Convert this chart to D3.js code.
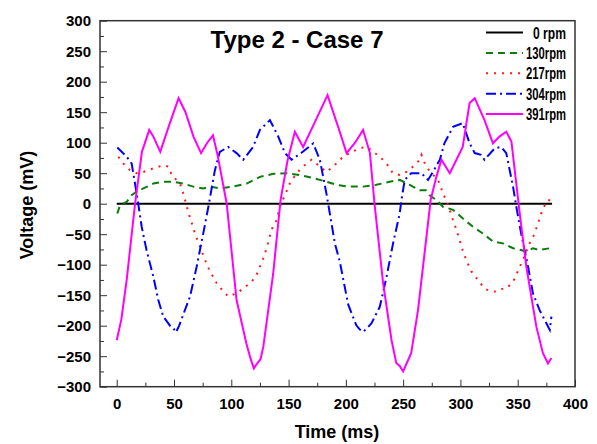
<!DOCTYPE html>
<html>
<head>
<meta charset="utf-8">
<script src="https://cdn.jsdelivr.net/npm/d3@7"></script>
<style>
  body { margin: 0; background: #fff; }
  text { font-family: Arial, "Liberation Sans", sans-serif; font-weight: bold; fill: #000; }
</style>
</head>
<body>
<svg width="597" height="444"></svg>
<script>
// series readings (ms, mV)
var t0 = [0, 380];
var v0 = [0, 0];

var t130 = [0.5, 3, 8.7, 13, 17.4, 23.2, 32, 40.6, 49.4, 58, 66.8, 75.5, 81.4, 90, 101.7, 113.4, 125, 136.6, 148.3, 159.9, 171.5, 183, 192, 202, 215, 226.7, 238.3, 247, 255.8, 264.5, 270, 273, 279, 284.8, 293.5, 302, 311, 319.7, 328.4, 337, 346, 353, 357.5, 363.3, 369, 378];
var v130 = [-16, -2, 3, 14, 20, 25, 33, 36, 36, 33, 28, 25, 28, 25, 28, 33, 44, 49, 50, 47, 42, 36, 31, 28, 28, 31, 36, 39, 31, 22, 22, 14, 6, -5, -10, -24, -38, -49, -62, -65, -73, -76, -79, -73, -76, -73];

var t217 = [1.4, 5.8, 11.6, 17.4, 23.2, 32, 40.6, 45, 48, 55.2, 58, 62.4, 68.3, 72.6, 77, 81.4, 87.2, 93, 97.3, 104.6, 110.4, 117.7, 122, 125, 128.5, 132, 135, 139.5, 142.4, 146.8, 151, 157, 162.7, 170, 177.3, 183, 189, 197.6, 203.5, 212, 218, 222, 229.6, 235.5, 241, 247, 252.9, 258.7, 264.5, 266, 270, 274.7, 280.5, 284.8, 289.2, 293.5, 296.5, 302, 305, 309.6, 315.3, 321, 327, 331.4, 335.7, 340, 346, 350, 354.6, 360.4, 364.8, 367.7, 372, 376.4, 379];
var v217 = [77, 66, 55, 50, 52, 58, 63, 61, 47, 33, 17, -13, -49, -70, -92, -111, -130, -144, -152, -147, -139, -128, -117, -103, -87, -65, -43, -27, -5, 14, 33, 50, 61, 72, 61, 52, 61, 77, 83, 91, 93, 88, 77, 66, 50, 47, 52, 61, 72, 80, 61, 50, 39, 17, -2, -27, -43, -76, -92, -111, -125, -139, -144, -144, -140, -139, -128, -111, -92, -65, -49, -32, -8, 6, 5];

var t304 = [0.5, 8.7, 13, 17.4, 21.8, 26, 32, 36.3, 40.6, 46.5, 49, 51.7, 54.5, 58, 64, 69.8, 75.5, 80, 85.7, 90, 97.3, 104.6, 110.4, 119, 125, 133.7, 141, 146.8, 152.6, 161, 171.5, 177.3, 183, 186, 190.4, 194.7, 202, 209, 212, 215, 218, 222.4, 229.6, 235.5, 241.2, 247, 248.5, 251.4, 257, 266, 271.7, 276, 282, 286, 293.5, 302, 308, 312.5, 318, 321, 330, 335.7, 340, 345.9, 348.8, 353, 359, 363.3, 369, 375, 378, 379.4];
var v304 = [92, 77, 66, 17, -38, -76, -120, -158, -185, -200, -203, -211, -200, -182, -152, -103, -49, -5, 55, 85, 93, 83, 72, 93, 121, 137, 110, 83, 72, 83, 99, 72, 17, -16, -65, -95, -165, -199, -206, -210, -205, -196, -169, -120, -65, -16, 6, 39, 50, 50, 39, 52, 72, 99, 126, 132, 99, 83, 80, 72, 91, 93, 83, 28, -5, -49, -103, -147, -174, -196, -207, -185];

var t391 = [0, 4, 8.7, 16, 22, 28.4, 32, 38, 46, 54, 60, 67, 73.6, 79, 84, 88, 96, 104.6, 113, 116.5, 119.7, 122.5, 125.5, 128, 136.6, 143, 149, 155.5, 162.7, 172, 184, 195, 200.6, 208, 215, 221, 225, 232.5, 239.8, 244, 247, 250, 253, 257, 263, 269, 274, 279, 283.4, 290.7, 302, 308, 312.5, 321, 328.4, 334, 340, 344.5, 351.7, 357.5, 366.3, 372, 376.4, 379.4];
var v391 = [-224, -190, -125, 0, 85, 121, 110, 85, 130, 173, 150, 110, 83, 100, 112, 80, 0, -158, -228, -252, -270, -262, -255, -234, -114, 6, 70, 118, 93, 130, 178, 116, 83, 100, 121, 83, 0, -130, -223, -261, -266, -275, -262, -245, -174, -76, 6, 44, 72, 50, 93, 165, 173, 137, 99, 110, 118, 102, -15, -103, -202, -245, -262, -253];

var xTicks = [0, 50, 100, 150, 200, 250, 300, 350, 400];
var yTicks = [-300, -250, -200, -150, -100, -50, 0, 50, 100, 150, 200, 250, 300];
var labels = ['0 rpm', '130rpm', '217rpm', '304rpm', '391rpm'];
var colors = ['#000000', '#0a7d0a', '#ff1a1a', '#0000ff', '#ff00ff'];
var dashes = [null, '7,5', '2,6', '10,4,2,4', null];

var svg = d3.select('svg');
var pLeft = 100, pRight = 575, pTop = 20.7, pBottom = 386.7;

var x = d3.scaleLinear().domain([-14.6, 400]).range([pLeft, pRight]);
var y = d3.scaleLinear().domain([-300, 300]).range([pBottom, pTop]);

var series = [[t0, v0], [t130, v130], [t217, v217], [t304, v304], [t391, v391]];

var line = d3.line()
  .x(function(d) { return x(d[0]); })
  .y(function(d) { return y(d[1]); });

var plot = svg.append('g');
series.forEach(function(s, i) {
  var pts = s[0].map(function(t, k) { return [t, s[1][k]]; });
  plot.append('path')
    .datum(pts)
    .attr('d', line)
    .attr('fill', 'none')
    .attr('stroke', colors[i])
    .attr('stroke-width', 2)
    .attr('stroke-dasharray', dashes[i]);
});

// axes with inward ticks
var xAxis = d3.axisBottom(x).tickValues(xTicks).tickSize(-7).tickPadding(12);
var xMinor = d3.axisBottom(x).tickValues(d3.range(25, 400, 50)).tickSize(-4).tickFormat('');
var yAxis = d3.axisLeft(y).tickValues(yTicks).tickSize(-7).tickPadding(9);
var yMinor = d3.axisLeft(y).tickValues(d3.range(-275, 300, 50)).tickSize(-4).tickFormat('');

function styleAxis(g) {
  g.select('.domain').remove();
  g.selectAll('line').attr('stroke', '#333').attr('stroke-width', 1);
  g.selectAll('text').style('font-size', '15px').style('font-weight', 'bold')
    .style('font-family', 'Arial, "Liberation Sans", sans-serif');
}

svg.append('g').attr('transform', 'translate(0,' + pBottom + ')').call(xAxis).call(styleAxis);
svg.append('g').attr('transform', 'translate(0,' + pBottom + ')').call(xMinor).call(styleAxis);
svg.append('g').attr('transform', 'translate(' + pLeft + ',0)').call(yAxis).call(styleAxis);
svg.append('g').attr('transform', 'translate(' + pLeft + ',0)').call(yMinor).call(styleAxis);

svg.append('rect')
  .attr('x', pLeft).attr('y', pTop)
  .attr('width', pRight - pLeft).attr('height', pBottom - pTop)
  .attr('fill', 'none').attr('stroke', '#333').attr('stroke-width', 1.5);

svg.append('text')
  .attr('x', 297).attr('y', 48)
  .attr('text-anchor', 'middle')
  .style('font-size', '24px')
  .text('Type 2 - Case 7');

svg.append('text')
  .attr('x', 337).attr('y', 438)
  .attr('text-anchor', 'middle')
  .style('font-size', '18px')
  .text('Time (ms)');

svg.append('text')
  .attr('transform', 'translate(33,205) rotate(-90)')
  .attr('text-anchor', 'middle')
  .style('font-size', '18px')
  .text('Voltage (mV)');

// legend
var legend = svg.append('g');
labels.forEach(function(lab, i) {
  var ly = 32.5 + i * 20.4;
  legend.append('line')
    .attr('x1', 486).attr('x2', 523)
    .attr('y1', ly).attr('y2', ly)
    .attr('stroke', colors[i]).attr('stroke-width', 2)
    .attr('stroke-dasharray', dashes[i]);
  legend.append('text')
    .attr('x', 566).attr('y', ly + 6)
    .attr('text-anchor', 'end')
    .attr('textLength', i === 0 ? 33 : 40)
    .attr('lengthAdjust', 'spacingAndGlyphs')
    .style('font-size', '16px')
    .text(lab);
});
</script>
</body>
</html>
